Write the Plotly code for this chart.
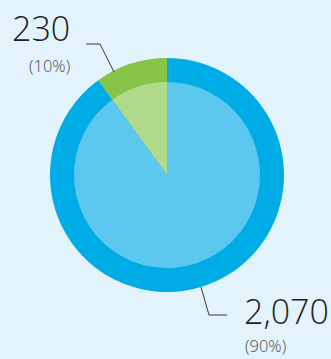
import plotly.graph_objects as go

# Data
categories = ["Group A", "Group B"]
values = [230, 2070]
outer_colors = ["#85c446", "#00ace5"]
inner_colors = ["#b0da8a", "#5cc8ef"]

W, H = 331, 359
cx, cy = 167, 175          # pie centre in pixels (from top-left)
r_outer, r_inner = 117, 93


def dom(r):
    return dict(
        x=[(cx - r) / W, (cx + r) / W],
        y=[(H - cy - r) / H, (H - cy + r) / H],
    )


common = dict(
    labels=categories,
    values=values,
    sort=False,
    direction="clockwise",
    rotation=-36,
    textinfo="none",
    hoverinfo="label+value+percent",
    marker=dict(line=dict(width=0)),
    showlegend=False,
)

fig = go.Figure()
fig.add_trace(go.Pie(domain=dom(r_outer), marker_colors=outer_colors, **common))
fig.add_trace(go.Pie(domain=dom(r_inner), marker_colors=inner_colors, **common))

total = sum(values)
pcts = [round(v / total * 100) for v in values]


def px(x):
    return x / W


def py(y):
    return 1 - y / H


font_big = dict(family="Open Sans, sans-serif", size=34, color="#231f20", weight=300)
font_small = dict(family="Open Sans, sans-serif", size=16.5, color="#4a4a4c", weight=300)

annotations = [
    dict(x=px(10), y=py(3), text=f"{values[0]:,}", font=font_big, yanchor="top"),
    dict(x=px(27), y=py(52), text=f"({pcts[0]}%)", font=font_small, yanchor="top"),
    dict(x=px(242), y=py(286), text=f"{values[1]:,}", font=font_big, yanchor="top"),
    dict(x=px(243), y=0, text=f"({pcts[1]}%)", font=font_small, yanchor="bottom"),
]
for a in annotations:
    a.update(xref="paper", yref="paper", xanchor="left", showarrow=False)

line_style = dict(color="#3a3a3a", width=1)
shapes = [
    dict(type="path", path=f"M {px(86)} {py(44)} L {px(100)} {py(44)} L {px(114)} {py(72)}"),
    dict(type="path", path=f"M {px(201)} {py(287)} L {px(209)} {py(315)} L {px(227)} {py(315)}"),
]
for s in shapes:
    s.update(xref="paper", yref="paper", line=line_style)

fig.update_layout(
    width=W,
    height=H,
    margin=dict(l=0, r=0, t=0, b=0),
    paper_bgcolor="#e2f3fb",
    plot_bgcolor="#e2f3fb",
    annotations=annotations,
    shapes=shapes,
)

fig.write_html("out.html")
